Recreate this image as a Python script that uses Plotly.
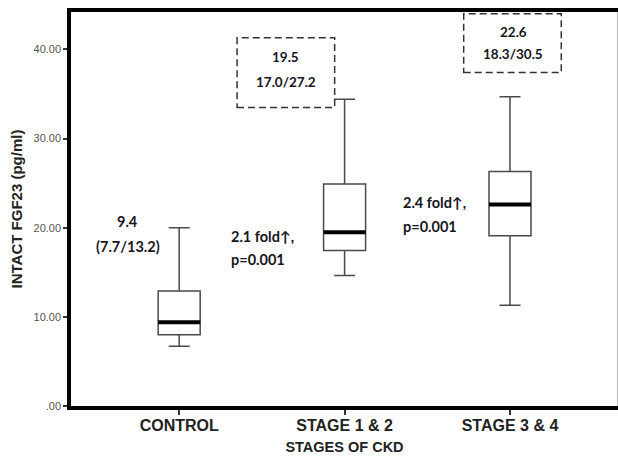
import plotly.graph_objects as go

# Intact FGF23 by CKD stage: five-number summaries per group
categories = ["CONTROL", "STAGE 1 & 2", "STAGE 3 & 4"]
lower_whisker = [6.7, 14.65, 11.3]
q1 = [8.0, 17.45, 19.1]
median = [9.4, 19.5, 22.6]
q3 = [12.9, 24.9, 26.3]
upper_whisker = [20.0, 34.4, 34.7]

y_tickvals = [0, 10, 20, 30, 40]
y_ticktext = [".00", "10.00", "20.00", "30.00", "40.00"]

positions = list(range(len(categories)))
box_width = 0.254

fig = go.Figure()

fig.add_trace(go.Box(
    x=positions,
    q1=q1, median=median, q3=q3,
    lowerfence=lower_whisker, upperfence=upper_whisker,
    width=box_width,
    whiskerwidth=0.5,
    fillcolor="white",
    line=dict(color="#4a4a4a", width=1.5),
    boxpoints=False,
    showlegend=False,
    hoverinfo="skip",
))

# heavy median bars across each box
for xp, m in zip(positions, median):
    fig.add_trace(go.Scatter(
        x=[xp - box_width / 2, xp + box_width / 2], y=[m, m],
        mode="lines", line=dict(color="black", width=4),
        showlegend=False, hoverinfo="skip",
    ))

ann_font = dict(family="Lato, Noto Sans, sans-serif", size=14.5, color="#161622")
box_font = dict(family="Lato, Noto Sans, sans-serif", size=13.5, color="#161622")

annotations = [
    dict(x=-0.31, y=20.7, text="<b>9.4</b>", font=ann_font),
    dict(x=-0.31, y=17.9, text="<b>(7.7/13.2)</b>", font=ann_font),
    dict(x=0.30, y=19.0, text="<b>2.1 fold\u2191,</b>", font=ann_font, xanchor="left"),
    dict(x=0.30, y=16.4, text="<b>p=0.001</b>", font=ann_font, xanchor="left"),
    dict(x=1.34, y=22.8, text="<b>2.4 fold\u2191,</b>", font=ann_font, xanchor="left"),
    dict(x=1.34, y=20.1, text="<b>p=0.001</b>", font=ann_font, xanchor="left"),
    dict(x=0.644, y=39.1, text="<b>19.5</b>", font=box_font),
    dict(x=0.644, y=36.4, text="<b>17.0/27.2</b>", font=box_font),
    dict(x=2.02, y=42.0, text="<b>22.6</b>", font=box_font),
    dict(x=2.02, y=39.5, text="<b>18.3/30.5</b>", font=box_font),
]
for a in annotations:
    a.setdefault("xanchor", "center")
    a.update(xref="x", yref="y", showarrow=False, yanchor="middle")

dashed = dict(color="#333333", width=1.5, dash="7px,4px")

fig.update_layout(
    width=618, height=456,
    margin=dict(l=71, r=0, t=12, b=50),
    plot_bgcolor="white", paper_bgcolor="white",
    annotations=annotations,
    shapes=[
        dict(type="rect", xref="x", yref="y", x0=0.35, x1=0.94, y0=33.5, y1=41.3, line=dashed),
        dict(type="rect", xref="x", yref="y", x0=1.72, x1=2.31, y0=37.4, y1=44.0, line=dashed),
        dict(type="line", xref="paper", yref="paper", x0=0.999, x1=0.999, y0=0, y1=1,
             line=dict(color="#bbbbbb", width=1)),
    ],
)

fig.update_xaxes(
    range=[-0.654, 2.653],
    tickvals=positions,
    ticktext=[f"<b>{c}</b>" for c in categories],
    tickfont=dict(family="Liberation Sans, Arial, sans-serif", size=16, color="#222222"),
    ticks="outside", ticklen=5, tickwidth=1.5, tickcolor="#333333",
    ticklabelstandoff=-3,
    showline=True, linecolor="black", linewidth=3.5, mirror=True,
    showgrid=False, zeroline=False,
    title=dict(text="<b>STAGES OF CKD</b>", standoff=10,
               font=dict(family="Liberation Sans, Arial, sans-serif", size=14.5, color="#222222")),
)

fig.update_yaxes(
    range=[0, 44.2],
    tickvals=y_tickvals, ticktext=y_ticktext,
    tickfont=dict(family="Liberation Sans, Arial, sans-serif", size=11, color="#555555"),
    ticks="outside", ticklen=4, tickwidth=1.5, tickcolor="#333333",
    showline=True, linecolor="black", linewidth=3.5,
    showgrid=False, zeroline=False,
    title=dict(text="<b>INTACT FGF23 (pg/ml)</b>", standoff=8,
               font=dict(family="Liberation Sans, Arial, sans-serif", size=15, color="#222222")),
)

fig.write_html("out.html")
